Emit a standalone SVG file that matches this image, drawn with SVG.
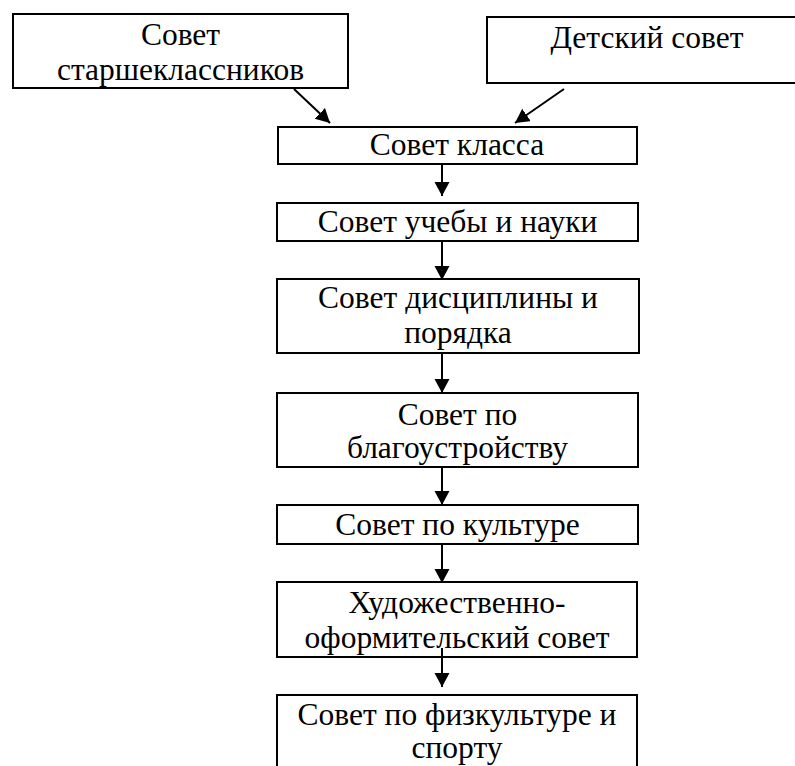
<svg xmlns="http://www.w3.org/2000/svg" width="795" height="766" viewBox="0 0 795 766">
<style>
.box{fill:#fff;stroke:#000;stroke-width:2}
.t{font-family:"Liberation Serif","Times New Roman",serif;font-size:31.5px;fill:#000;text-anchor:middle}
.c{stroke:#000;stroke-width:2;fill:none;marker-end:url(#ah)}
</style>
<defs>
<marker id="ah" markerUnits="userSpaceOnUse" markerWidth="16" markerHeight="16" refX="14" refY="7.5" orient="auto">
<path d="M0,0 L14,7.5 L0,15 Z" fill="#000"/>
</marker>
</defs>
<rect width="795" height="766" fill="#fff"/>
<g id="n1"><rect class="box" x="13" y="14" width="335" height="74"/>
<text class="t" x="180.5" y="45">Совет</text><text class="t" x="180.5" y="80">старшеклассников</text></g>
<g id="n2"><rect class="box" x="487" y="17" width="320" height="66"/>
<text class="t" x="647" y="48">Детский совет</text></g>
<g id="n3"><rect class="box" x="278" y="127" width="359" height="37"/>
<text class="t" x="457" y="155">Совет класса</text></g>
<g id="n4"><rect class="box" x="277" y="203" width="361" height="38"/>
<text class="t" x="457.5" y="232">Совет учебы и науки</text></g>
<g id="n5"><rect class="box" x="277" y="279" width="362" height="74"/>
<text class="t" x="458" y="308">Совет дисциплины и</text><text class="t" x="458" y="343">порядка</text></g>
<g id="n6"><rect class="box" x="277" y="393" width="361" height="74"/>
<text class="t" x="457.5" y="425">Совет по</text><text class="t" x="457.5" y="458">благоустройству</text></g>
<g id="n7"><rect class="box" x="277" y="505" width="361" height="39"/>
<text class="t" x="457.5" y="535">Совет по культуре</text></g>
<g id="n8"><rect class="box" x="277" y="582" width="360" height="75"/>
<text class="t" x="457" y="613">Художественно-</text><text class="t" x="457" y="648">оформительский совет</text></g>
<g id="n9"><rect class="box" x="277" y="695" width="360" height="90"/>
<text class="t" x="457" y="725">Совет по физкультуре и</text><text class="t" x="457" y="758">спорту</text></g>
<g id="connectors">
<line class="c" x1="294" y1="89" x2="330" y2="123"/>
<line class="c" x1="564" y1="89" x2="515" y2="123"/>
<line class="c" x1="442" y1="164" x2="442" y2="196"/>
<line class="c" x1="442" y1="241" x2="442" y2="280"/>
<line class="c" x1="442" y1="353" x2="442" y2="393"/>
<line class="c" x1="442" y1="467" x2="442" y2="505"/>
<line class="c" x1="442" y1="544" x2="442" y2="583"/>
<line class="c" x1="442" y1="648" x2="442" y2="687"/>
</g>
</svg>
